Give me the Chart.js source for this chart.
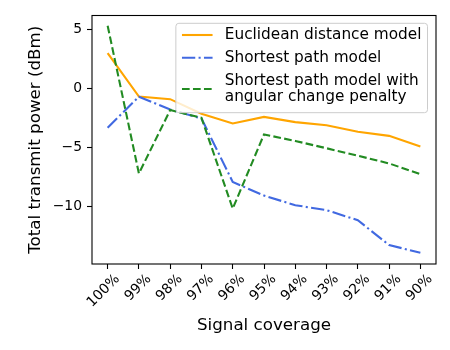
<!DOCTYPE html>
<html>
<head>
<meta charset="utf-8">
<script src="https://cdn.jsdelivr.net/npm/chart.js@4"></script>
<style>
  body { margin: 0; background: #fff; }
  #wrap { width: 450px; height: 350px; position: relative; }
</style>
</head>
<body>
<div id="wrap"><canvas id="power_chart"></canvas></div>
<script>
// signal coverage categories
const coverage = ['100%', '99%', '98%', '97%', '96%', '95%', '94%', '93%', '92%', '91%', '90%'];

// total transmit power (dBm)
const euclidean = [2.97, -0.7, -0.92, -2.15, -2.97, -2.42, -2.86, -3.13, -3.68, -4.02, -4.93];
const shortest = [-3.33, -0.71, -1.8, -2.55, -7.92, -9.07, -9.88, -10.3, -11.15, -13.25, -13.9];
const penalty = [5.28, -7.2, -1.84, -2.5, -10.17, -3.9, -4.45, -5.07, -5.7, -6.35, -7.26];

const yTicks = [-10, -5, 0, 5];
const legendNames = [['Euclidean distance model'], ['Shortest path model'], ['Shortest path model with', 'angular change penalty']];

const ctx = document.getElementById('power_chart');
const FONT = '"DejaVu Sans", sans-serif';

// box around the plot + matplotlib-like legend
const framePlugin = {
  id: 'frame',
  afterDraw(chart) {
    const c = chart.ctx;
    const a = chart.chartArea;
    c.save();
    c.strokeStyle = '#000';
    c.lineWidth = 1.1;
    c.strokeRect(a.left, a.top, a.right - a.left, a.bottom - a.top);

    // legend
    const fs = 15.3;
    c.font = fs + 'px ' + FONT;
    let maxW = 0;
    legendNames.forEach(lines => lines.forEach(t => { maxW = Math.max(maxW, c.measureText(t).width); }));
    const pad = 6.1, handle = 30.6, gap = 12.2;
    const w = pad * 2 + handle + gap + maxW;
    const h = 89.4;
    const x0 = a.right - 8.5 - w;
    const y0 = a.top + 7.8;
    c.beginPath();
    c.roundRect(x0, y0, w, h, 3);
    c.fillStyle = 'rgba(255,255,255,0.8)';
    c.fill();
    c.strokeStyle = '#cccccc';
    c.lineWidth = 1;
    c.stroke();

    const rows = [[11.7], [34.4], [57.4, 74]];
    const handleY = [11.7, 34.4, 65.7];
    chart.data.datasets.forEach((ds, i) => {
      const hy = y0 + handleY[i];
      c.beginPath();
      c.strokeStyle = ds.borderColor;
      c.lineWidth = ds.borderWidth;
      c.setLineDash(ds.borderDash || []);
      c.moveTo(x0 + pad, hy);
      c.lineTo(x0 + pad + handle, hy);
      c.stroke();
      c.setLineDash([]);
      c.fillStyle = '#000';
      c.textBaseline = 'middle';
      c.textAlign = 'left';
      legendNames[i].forEach((t, k) => {
        c.fillText(t, x0 + pad + handle + gap, y0 + rows[i][k]);
      });
    });
    c.restore();
  }
};

new Chart(ctx, {
  type: 'line',
  data: {
    labels: coverage,
    datasets: [
      { data: euclidean, label: 'Euclidean distance model', borderColor: '#FFA500', borderWidth: 2.1, pointRadius: 0, order: 3 },
      { data: shortest, label: 'Shortest path model', borderColor: '#4169E1', borderWidth: 2.1, borderDash: [13.3, 3.3, 2.1, 3.3], pointRadius: 0, order: 2 },
      { data: penalty, label: 'Shortest path model with angular change penalty', borderColor: '#228B22', borderWidth: 2.1, borderDash: [7.7, 3.3], pointRadius: 0, order: 1 }
    ]
  },
  options: {
    responsive: true,
    maintainAspectRatio: false,
    animation: false,
    layout: { padding: { left: 0, right: 14, top: 15.5, bottom: 0 } },
    plugins: {
      legend: { display: false },
      tooltip: { enabled: false }
    },
    scales: {
      x: {
        type: 'category',
        offset: true,
        afterFit: s => { s.height = 86; },
        grid: { drawOnChartArea: false, tickLength: 5, color: '#000', tickWidth: 1.1, offset: false },
        border: { display: false },
        ticks: {
          color: '#000',
          font: { family: FONT, size: 13.9 },
          minRotation: 45,
          maxRotation: 45,
          padding: 2,
          labelOffset: 10
        },
        title: {
          display: true,
          text: 'Signal coverage',
          color: '#000',
          font: { family: FONT, size: 16.7 },
          padding: { top: 4, bottom: 14 }
        }
      },
      y: {
        min: -14.85,
        max: 6.15,
        afterFit: s => { s.width = 92; },
        afterBuildTicks: s => { s.ticks = yTicks.map(v => ({ value: v })); },
        grid: { drawOnChartArea: false, tickLength: 5, color: '#000', tickWidth: 1.1 },
        border: { display: false },
        ticks: {
          color: '#000',
          font: { family: FONT, size: 13.9 },
          padding: 5,
          callback: v => String(v).replace('-', '\u2212')
        },
        title: {
          display: true,
          text: 'Total transmit power (dBm)',
          color: '#000',
          font: { family: FONT, size: 16.7 },
          padding: { top: 26, bottom: 4 }
        }
      }
    }
  },
  plugins: [framePlugin]
});
</script>
</body>
</html>
